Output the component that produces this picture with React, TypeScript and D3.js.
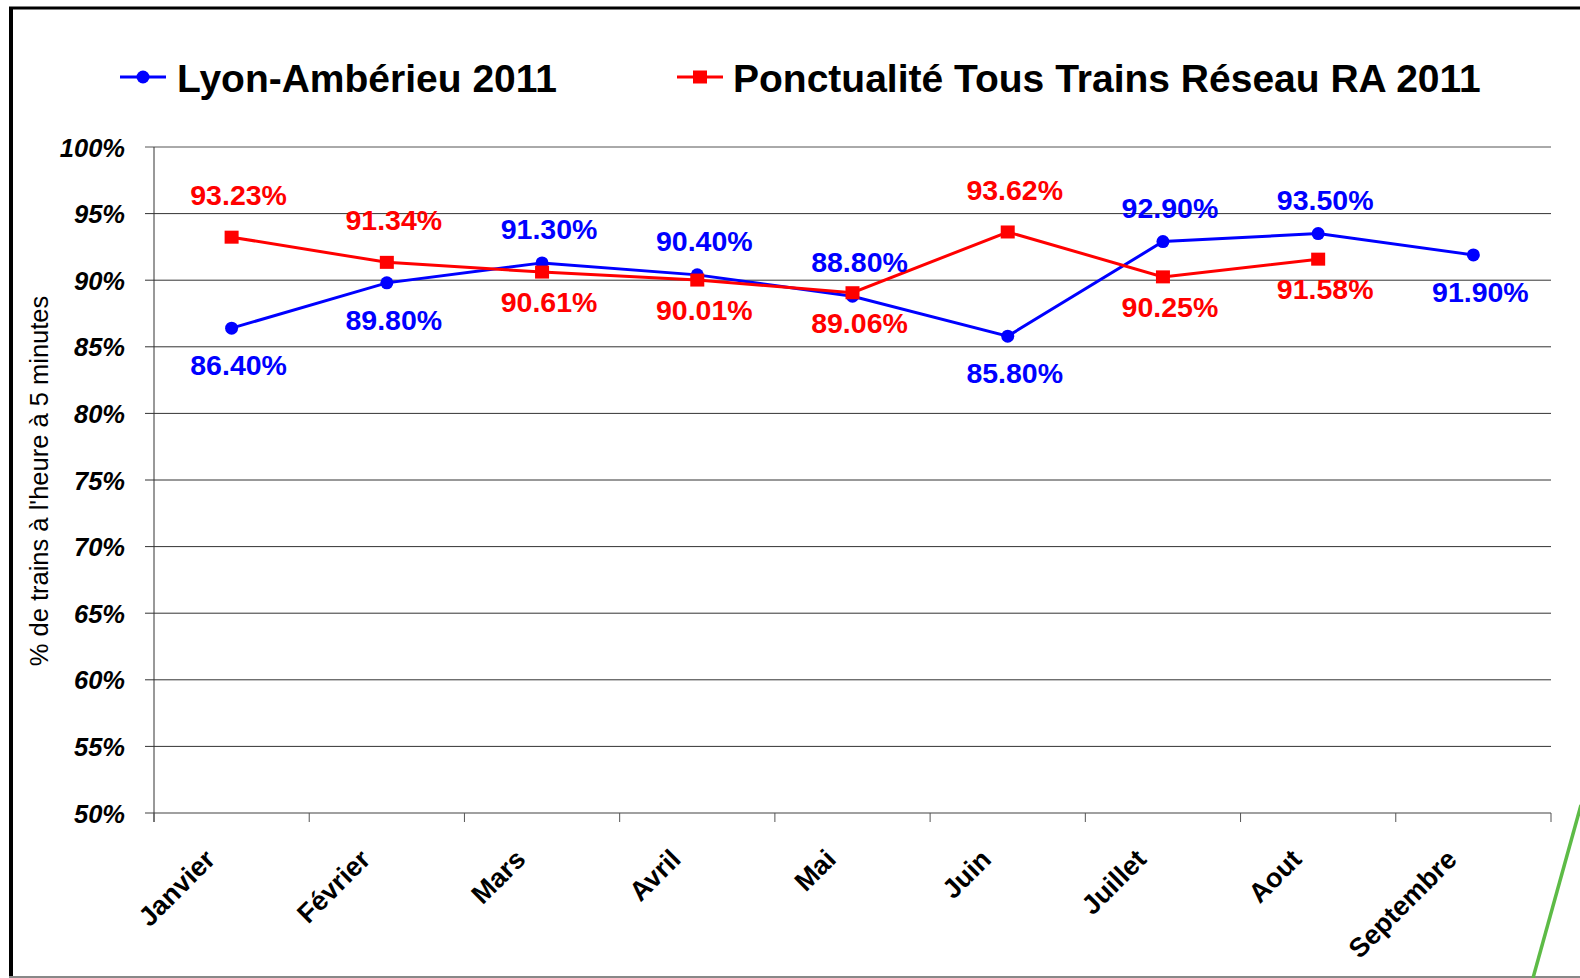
import React from "react";
import * as d3 from "d3";

const months = ["Janvier", "Février", "Mars", "Avril", "Mai", "Juin", "Juillet", "Aout", "Septembre"];
const lyonValues = [86.4, 89.8, 91.3, 90.4, 88.8, 85.8, 92.9, 93.5, 91.9];
const reseauValues = [93.23, 91.34, 90.61, 90.01, 89.06, 93.62, 90.25, 91.58];
const lyonLabelAbove = [false, false, true, true, true, false, true, true, false];
const reseauLabelAbove = [true, true, false, false, false, true, false, false];
const yTicks = [50, 55, 60, 65, 70, 75, 80, 85, 90, 95, 100];
const lyonName = "Lyon-Ambérieu 2011";
const reseauName = "Ponctualité Tous Trains Réseau RA 2011";
const yTitle = "% de trains à l'heure à 5 minutes";

const W = 1580;
const H = 978;
const FONT = "'Liberation Sans', Arial, Helvetica, sans-serif";
const BLUE = "#0000FF";
const RED = "#FF0000";

export default function App() {
  const left = 154, right = 1551, top = 147, bottom = 813;
  const x = d3.scaleBand<string>().domain(months).range([left, right]).padding(0);
  const y = d3.scaleLinear().domain([50, 100]).range([bottom, top]);
  const cx = (i: number) => (x(months[i]) as number) + x.bandwidth() / 2;

  const line = d3
    .line<number>()
    .x((_, i) => cx(i))
    .y((d) => y(d));

  const boundaries = months.map((m) => x(m) as number).concat([right]);

  const label = (
    v: number,
    i: number,
    above: boolean,
    color: string,
    key: string,
    upGap: number,
    downGap: number
  ) => {
    const py = y(v);
    const by = above ? py - upGap : py + downGap;
    return (
      <text
        key={key}
        x={cx(i) + 7}
        y={by}
        textAnchor="middle"
        fontFamily={FONT}
        fontWeight="bold"
        fontSize={28.5}
        fill={color}
      >
        {v.toFixed(2) + "%"}
      </text>
    );
  };

  return (
    <svg
      width={W}
      height={H}
      viewBox={`0 0 ${W} ${H}`}
      style={{ position: "absolute", left: 0, top: 0, display: "block", background: "#fff" }}
    >
      <rect x={0} y={0} width={W} height={H} fill="#fff" />
      {/* frame */}
      <line x1={9} y1={8} x2={W} y2={8} stroke="#000" strokeWidth={3} />
      <line x1={11} y1={7} x2={11} y2={977} stroke="#000" strokeWidth={4} />
      <line x1={9} y1={977} x2={W} y2={977} stroke="#888" strokeWidth={2} />
      <line x1={1581} y1={805} x2={1533} y2={978} stroke="#5DBB46" strokeWidth={3.5} />

      {/* legend */}
      <g>
        <line x1={120} y1={77} x2={166} y2={77} stroke={BLUE} strokeWidth={3} />
        <circle cx={143} cy={77} r={6.5} fill={BLUE} />
        <text x={177} y={92} fontFamily={FONT} fontWeight="bold" fontSize={39} fill="#000">
          {lyonName}
        </text>
        <line x1={677} y1={77} x2={723} y2={77} stroke={RED} strokeWidth={3} />
        <rect x={693} y={70.5} width={14} height={13} fill={RED} />
        <text x={733} y={92} fontFamily={FONT} fontWeight="bold" fontSize={39} fill="#000">
          {reseauName}
        </text>
      </g>

      {/* grid + y ticks */}
      {yTicks.map((t) => (
        <g key={t}>
          <line
            x1={145}
            x2={right}
            y1={y(t)}
            y2={y(t)}
            stroke={t === 50 ? "#808080" : t === 100 ? "#555" : "#333"}
            strokeWidth={t === 50 ? 1.6 : 1}
          />
          <text
            x={125}
            y={y(t) + 9.5}
            textAnchor="end"
            fontFamily={FONT}
            fontWeight="bold"
            fontStyle="italic"
            fontSize={25.5}
            fill="#000"
          >
            {t + "%"}
          </text>
        </g>
      ))}
      {/* y axis line */}
      <line x1={left} x2={left} y1={top} y2={bottom + 9} stroke="#333" strokeWidth={1} />
      {/* x ticks */}
      {boundaries.map((b, i) => (
        <line key={i} x1={b} x2={b} y1={bottom} y2={bottom + 9} stroke="#555" strokeWidth={1} />
      ))}
      {/* x labels */}
      {months.map((m, i) => {
        const px = cx(i) - 15;
        const py = bottom + 48;
        return (
          <text
            key={m}
            x={px}
            y={py}
            textAnchor="end"
            transform={`rotate(-45 ${px} ${py})`}
            fontFamily={FONT}
            fontWeight="bold"
            fontSize={27}
            fill="#000"
          >
            {m}
          </text>
        );
      })}
      {/* y title */}
      <text
        transform={`translate(48 ${481}) rotate(-90)`}
        textAnchor="middle"
        fontFamily={FONT}
        fontSize={25.5}
        fill="#000"
      >
        {yTitle}
      </text>

      {/* series */}
      <path d={line(lyonValues) || ""} fill="none" stroke={BLUE} strokeWidth={3} />
      <path d={line(reseauValues) || ""} fill="none" stroke={RED} strokeWidth={3} />
      {lyonValues.map((v, i) => (
        <circle key={"b" + i} cx={cx(i)} cy={y(v)} r={6.5} fill={BLUE} />
      ))}
      {reseauValues.map((v, i) => (
        <rect key={"r" + i} x={cx(i) - 7} y={y(v) - 6.5} width={14} height={13} fill={RED} />
      ))}
      {lyonValues.map((v, i) => label(v, i, lyonLabelAbove[i], BLUE, "lb" + i, 24, 47))}
      {reseauValues.map((v, i) => label(v, i, reseauLabelAbove[i], RED, "lr" + i, 32, 40))}
    </svg>
  );
}
